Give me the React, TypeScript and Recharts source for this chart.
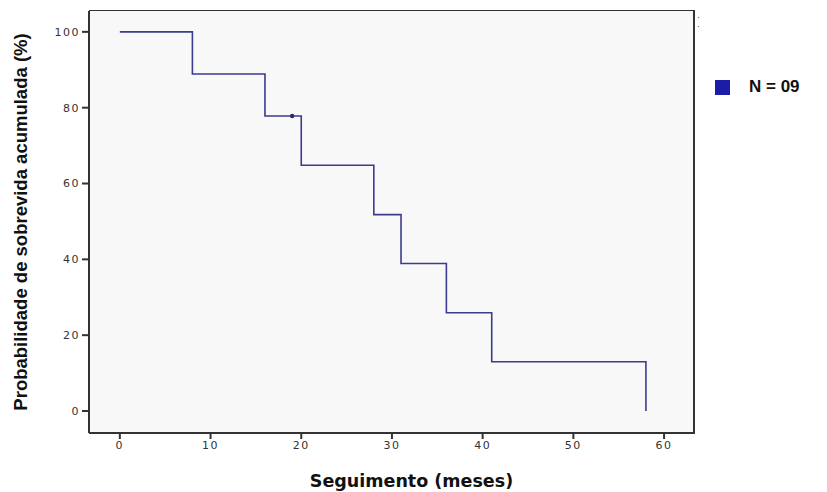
import {
  ComposedChart,
  Line,
  Scatter,
  XAxis,
  YAxis,
  CartesianGrid,
} from "recharts";

// Kaplan-Meier steps
const months = [0, 8, 16, 20, 28, 31, 36, 41, 58];
const survival = [100, 88.9, 77.8, 64.8, 51.8, 38.9, 25.9, 13, 0];
const censoredMonths = [19];
const censoredSurvival = [77.8];
const xTicks = [0, 10, 20, 30, 40, 50, 60];
const yTicks = [0, 20, 40, 60, 80, 100];
const seriesName = "N = 09";

const curve = months.map((t, i) => ({ t, s: survival[i] }));
const censored = censoredMonths.map((t, i) => ({ t, s: censoredSurvival[i] }));

const tickStyle = {
  fontFamily: "DejaVu Sans",
  fontSize: 11,
  fill: "#333",
  letterSpacing: 1.5,
};

const App = () => {
  return (
    <div style={{ position: "absolute", left: 0, top: 0, width: 827, height: 492, background: "#fff" }}>
      <ComposedChart
        width={827}
        height={492}
        data={curve}
        margin={{ top: 11, right: 133, bottom: 0, left: 0 }}
      >
        <CartesianGrid fill="#f8f8f8" horizontal={false} vertical={false} />
        <XAxis
          dataKey="t"
          type="number"
          domain={[-3.4, 63.3]}
          ticks={xTicks}
          allowDataOverflow
          tick={tickStyle}
          tickSize={6}
          tickLine={{ stroke: "#333", strokeWidth: 2 }}
          axisLine={{ stroke: "#333", strokeWidth: 2 }}
          height={59}
          label={{
            value: "Seguimento (meses)",
            position: "insideBottom",
            offset: 5,
            dx: 20,
            style: { fontFamily: "DejaVu Sans", fontWeight: 700, fontSize: 17.5, fill: "#111" },
          }}
        />
        <YAxis
          type="number"
          domain={[-5.8, 105.5]}
          ticks={yTicks}
          allowDataOverflow
          tick={tickStyle}
          tickSize={7}
          tickLine={{ stroke: "#333", strokeWidth: 2 }}
          axisLine={{ stroke: "#333", strokeWidth: 2 }}
          width={89}
          label={{
            value: "Probabilidade de sobrevida acumulada (%)",
            angle: -90,
            position: "insideLeft",
            offset: 20,
            style: { textAnchor: "middle", fontFamily: "Liberation Sans, Arial", fontWeight: 700, fontSize: 18.5, fill: "#111" },
          }}
        />
        <Line
          data={curve}
          dataKey="s"
          type="stepAfter"
          stroke="#3b3b8f"
          strokeWidth={1.6}
          dot={false}
          isAnimationActive={false}
          name={seriesName}
        />
        <Scatter
          data={censored}
          dataKey="s"
          fill="#2a2a6a"
          shape={(p: any) => <circle cx={p.cx} cy={p.cy} r={2.2} fill="#2a2a6a" />}
          isAnimationActive={false}
          legendType="none"
        />
      </ComposedChart>
      {/* top and right edges of the plot frame */}
      <div
        style={{
          position: "absolute",
          left: 89,
          top: 10,
          width: 604,
          height: 423,
          borderTop: "1.5px solid #333",
          borderRight: "2px solid #333",
          pointerEvents: "none",
        }}
      />
      <div style={{ position: "absolute", left: 697, top: 14, fontSize: 9, color: "#555", lineHeight: "9px", fontFamily: "DejaVu Sans" }}>
        ·<br />·
      </div>
      {/* legend */}
      <div
        style={{
          position: "absolute",
          left: 715,
          top: 77,
          display: "flex",
          alignItems: "center",
          fontFamily: "Liberation Sans, Arial",
          fontWeight: 700,
          fontSize: 17,
        }}
      >
        <span style={{ width: 15, height: 15, background: "#1c1ca8", display: "inline-block", marginRight: 19 }} />
        <span style={{ color: "#111" }}>{seriesName}</span>
      </div>
    </div>
  );
};

export default App;
